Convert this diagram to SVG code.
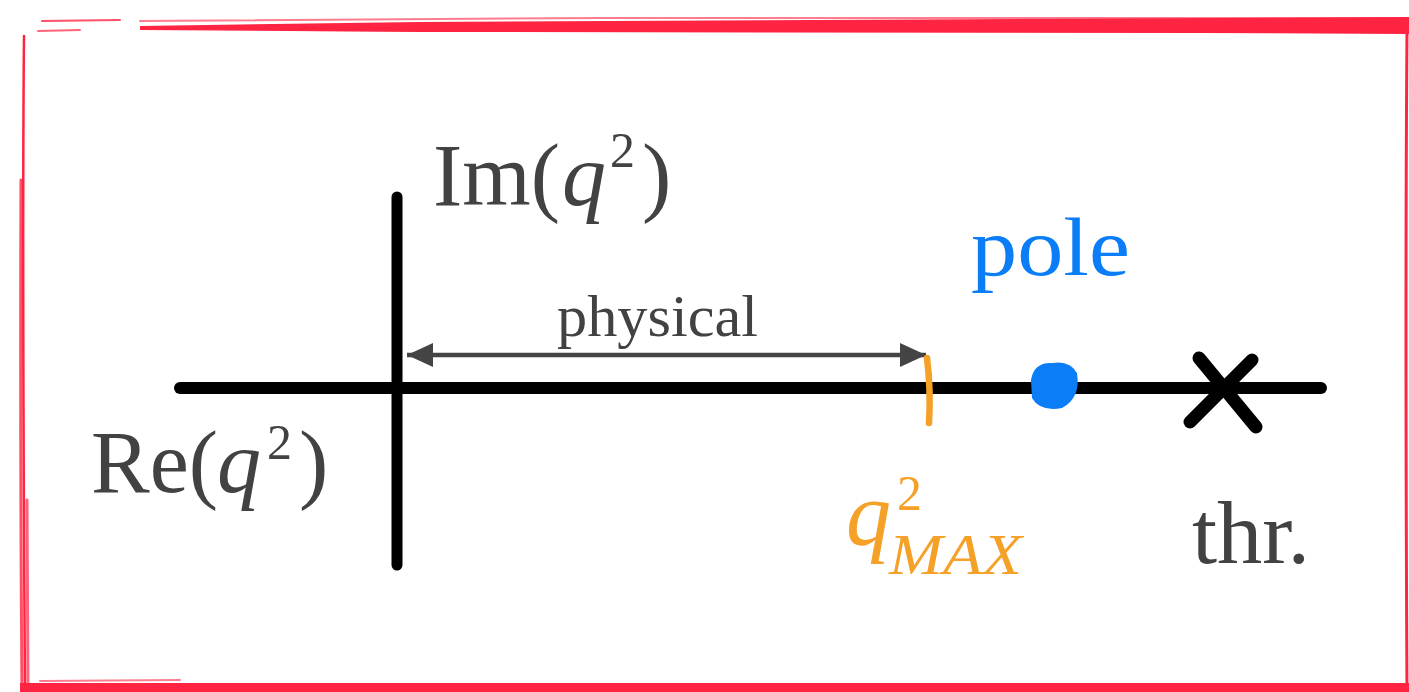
<svg xmlns="http://www.w3.org/2000/svg" width="1409" height="692" viewBox="0 0 1409 692">
<style>
.t{font-family:"Liberation Serif","Times New Roman",serif;fill:#424242}
.it{font-style:italic}
.fr{stroke:#FF2442;fill:none;stroke-linecap:round}
</style>
<defs>
<marker id="ah" viewBox="0 0 26 24" refX="26" refY="12" markerWidth="26" markerHeight="24" markerUnits="userSpaceOnUse" orient="auto-start-reverse">
<path d="M0 0 L26 12 L0 24 Z" fill="#444"/>
</marker>
</defs>
<rect width="1409" height="692" fill="#fff"/>
<g id="frame">
<polygon points="140,26 420,22 1409,17 1409,34 1200,33 420,32 140,30" fill="#FF2442"/>
<path class="fr" d="M42 21 L120 20" stroke-width="2" opacity=".8"/>
<path class="fr" d="M140 21 L600 18 L1409 18" stroke-width="2" opacity=".6"/>
<path class="fr" d="M38 31 L80 30" stroke-width="2" opacity=".7"/>
<path class="fr" d="M300 29 L1409 31" stroke-width="4" opacity=".7"/>
<path class="fr" d="M24 36 Q22 250 25 692" stroke-width="2.5"/>
<path class="fr" d="M21 180 Q20 450 22 692" stroke-width="3" opacity=".8"/>
<path class="fr" d="M27 500 L28 692" stroke-width="3" opacity=".7"/>
<rect x="20" y="683" width="1389" height="9" fill="#FF2442"/>
<path class="fr" d="M40 681 L180 680" stroke-width="2" opacity=".6"/>
<path class="fr" d="M1407 32 Q1405 300 1407 692" stroke-width="3"/>
</g>
<g id="axes" stroke="#000" stroke-linecap="round">
<line id="re-axis" x1="180" y1="388" x2="1321" y2="388" stroke-width="12"/>
<line id="im-axis" x1="397" y1="197" x2="397" y2="565" stroke-width="11"/>
</g>
<g id="connectors">
<line x1="407" y1="355" x2="926" y2="355" stroke="#444" stroke-width="4.5" marker-start="url(#ah)" marker-end="url(#ah)"/>
</g>
<g id="qmax-tick">
<path d="M927 358 Q931 390 929 423" stroke="#F5A027" stroke-width="6.5" fill="none" stroke-linecap="round"/>
</g>
<g id="pole-dot">
<path d="M1031 380 Q1034 362 1052 363 Q1070 360 1077 373 Q1081 398 1062 408 Q1040 412 1032 398 Z" fill="#0A7DF7"/>
</g>
<g id="threshold" stroke="#000" stroke-width="13" stroke-linecap="round">
<line x1="1199" y1="358" x2="1256" y2="427"/>
<line x1="1252" y1="360" x2="1190" y2="422"/>
</g>
<g id="labels">
<text class="t" font-size="88"><tspan x="433" y="205">Im(</tspan><tspan class="it" x="562" y="205">q</tspan><tspan x="610" y="167" font-size="50">2</tspan><tspan x="642" y="205">)</tspan></text>

<text class="t" font-size="88"><tspan x="91" y="492">Re(</tspan><tspan class="it" x="217" y="492">q</tspan><tspan x="267" y="459" font-size="50">2</tspan><tspan x="299" y="492">)</tspan></text>

<text class="t" x="557" y="336" font-size="60" textLength="201" lengthAdjust="spacingAndGlyphs">physical</text>

<text class="t" x="971" y="275" font-size="82" textLength="159" lengthAdjust="spacingAndGlyphs" style="fill:#0A7DF7">pole</text>

<text class="t" x="1192" y="563" font-size="88" textLength="118" lengthAdjust="spacingAndGlyphs">thr.</text>

<text class="t" style="fill:#F5A027"><tspan class="it" x="846" y="545" font-size="90">q</tspan><tspan x="897" y="510" font-size="50">2</tspan></text>
<text class="t it" x="889" y="574" font-size="57" textLength="133" lengthAdjust="spacingAndGlyphs" style="fill:#F5A027">MAX</text>
</g>
</svg>
